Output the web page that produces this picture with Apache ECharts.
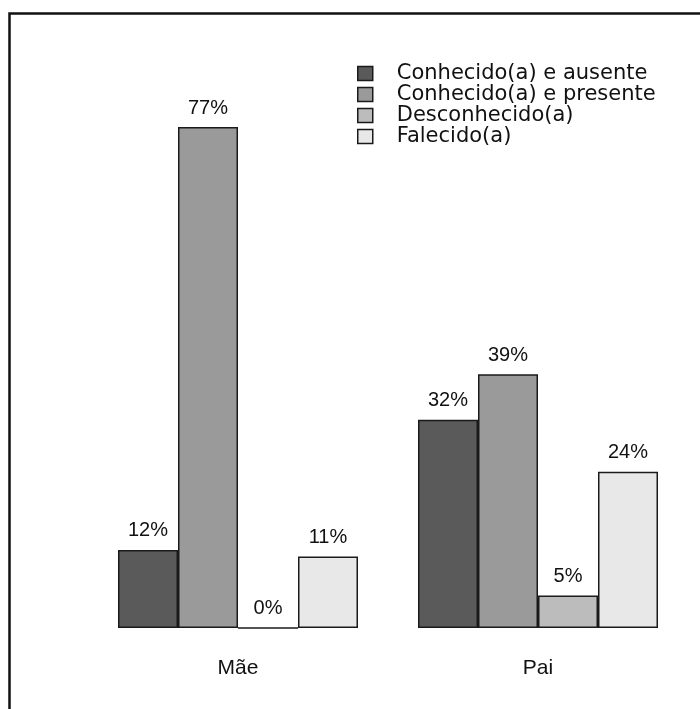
<!DOCTYPE html>
<html>
<head>
<meta charset="utf-8">
<script src="https://cdn.jsdelivr.net/npm/echarts@6/dist/echarts.min.js"></script>
<style>html,body{margin:0;padding:0;background:#fff}#c{width:700px;height:709px}</style>
</head>
<body>
<div id="c"></div>
<script>
var categories = ['Mãe', 'Pai'];
var seriesNames = ['Conhecido(a) e ausente', 'Conhecido(a) e presente', 'Desconhecido(a)', 'Falecido(a)'];
var ausente = [12, 32];
var presente = [77, 39];
var desconhecido = [0, 5];
var falecido = [11, 24];
var colors = ['#5a5a5a', '#9a9a9a', '#bcbcbc', '#e8e8e8'];

var chart = echarts.init(document.getElementById('c'), null, {renderer: 'canvas'});
var font = '"Liberation Sans", Arial, sans-serif';
var wideFont = '"DejaVu Sans", "Liberation Sans", sans-serif';
function mk(name, data, color) {
  return {
    name: name, type: 'bar', data: data,
    barGap: '0%', barCategoryGap: '20%',
    itemStyle: {color: color, borderColor: '#1a1a1a', borderWidth: 1.5},
    label: {show: true, position: 'top', distance: 9, formatter: '{c}%', color: '#111', fontSize: 20, fontFamily: font},
    emphasis: {disabled: true}
  };
}
chart.setOption({
  animation: false,
  backgroundColor: '#fff',
  grid: {left: 88, right: 12, top: 107.5, bottom: 81},
  legend: {
    orient: 'vertical', left: 357, top: 63, padding: 0, itemWidth: 15, itemHeight: 14, itemGap: 0,
    icon: 'rect',
    textStyle: {fontSize: 21, lineHeight: 21, fontFamily: wideFont, color: '#111', padding: [0, 0, 0, 19]},
    itemStyle: {borderColor: '#1a1a1a', borderWidth: 1.5},
    selectedMode: false
  },
  xAxis: {
    type: 'category', data: categories,
    axisLine: {show: false}, axisTick: {show: false},
    axisLabel: {fontSize: 21, fontFamily: font, color: '#111', margin: 30}
  },
  yAxis: {type: 'value', min: 0, max: 80, show: false, splitLine: {show: false}},
  series: [
    mk(seriesNames[0], ausente, colors[0]),
    mk(seriesNames[1], presente, colors[1]),
    mk(seriesNames[2], desconhecido, colors[2]),
    mk(seriesNames[3], falecido, colors[3])
  ],
  graphic: [{
    type: 'rect', shape: {x: 9.5, y: 13.5, width: 800, height: 800},
    style: {fill: 'none', stroke: '#111', lineWidth: 2.5}, silent: true
  }]
});
</script>
</body>
</html>
